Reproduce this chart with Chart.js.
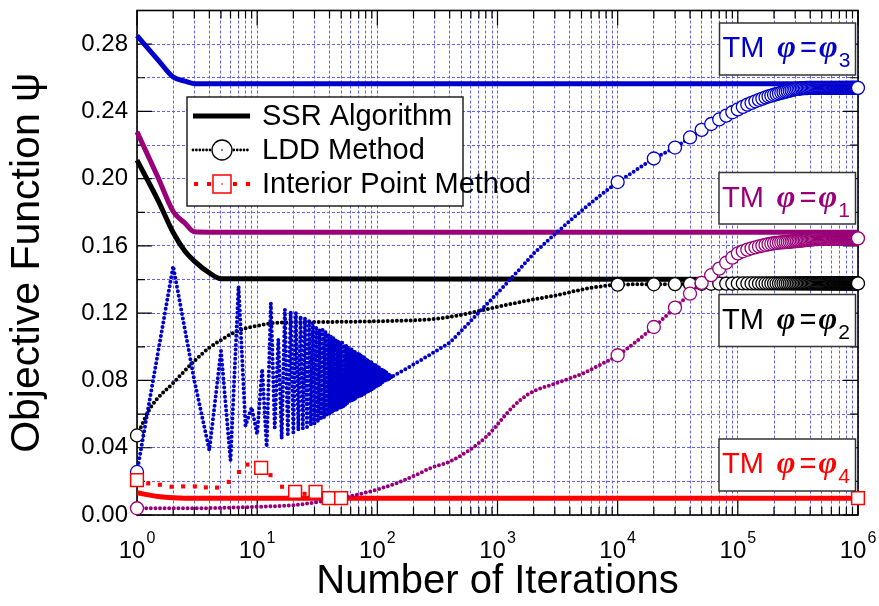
<!DOCTYPE html>
<html>
<head>
<meta charset="utf-8">
<script src="https://cdn.jsdelivr.net/npm/chart.js@4.4.1/dist/chart.umd.min.js"></script>
<style>
html, body { margin: 0; padding: 0; background: #fff; }
#wrap { width: 879px; height: 606px; }
</style>
</head>
<body>
<div id="wrap"><canvas id="myChart"></canvas></div>
<script>
// axis ticks
const decades = [1, 10, 100, 1000, 10000, 100000, 1000000];
const minorSteps = [1, 2, 3, 4, 5, 6, 7, 8, 9];
const yTicks = [0, 0.02, 0.04, 0.06, 0.08, 0.10, 0.12, 0.14, 0.16, 0.18, 0.20, 0.22, 0.24, 0.26, 0.28, 0.30];
const yLabels = [0, 0.04, 0.08, 0.12, 0.16, 0.20, 0.24, 0.28];

// SSR algorithm (solid lines)
const ssrIters = [1, 1.5, 2, 2.5, 3, 4, 5, 1000000];
const ssrPhi3 = [0.2850, 0.2705, 0.2604, 0.2580, 0.2565, 0.2564, 0.2564, 0.2564];
const ssrPhi1 = [0.2278, 0.2005, 0.1805, 0.1736, 0.1684, 0.1682, 0.1682, 0.1682];
const ssrPhi2 = [0.2110, 0.1870, 0.1680, 0.1570, 0.1510, 0.1440, 0.1405, 0.1400];
const ssrPhi4 = [0.0132, 0.0110, 0.0102, 0.0100, 0.0100, 0.0100, 0.0100, 0.0100];

// LDD method, first part of each run
const lddPhi3Iters = [1, 2, 3, 4, 5, 6, 7, 8, 9, 10, 11, 12, 13, 14, 15, 16, 17, 18, 19, 20,
  21, 22, 23, 24, 25, 26, 27, 28, 29, 30, 31, 32, 33, 34, 35, 36, 37, 38, 39, 40,
  41, 42, 43, 44, 45, 46, 47, 48, 49, 50, 51, 52, 53, 54, 55, 56, 57, 58, 59, 60,
  61, 62, 63, 64, 65, 66, 67, 68, 69, 70, 71, 72, 73, 74, 75, 76, 77, 78, 79, 80,
  81, 82, 83, 84, 85, 86, 87, 88, 89, 90, 91, 92, 93, 94, 95, 96, 97, 98, 99, 100,
  101, 102, 103, 104, 105, 106, 107, 108, 109, 110, 111, 112, 113, 114, 115, 116, 117, 118, 119, 120,
  121, 122, 123, 124, 125, 126, 127, 128, 129, 130, 131, 132,
  150, 200, 300, 400, 500, 700, 1000, 1500, 2000, 3000, 5000, 7000];
const lddPhi3 = [
  0.0256, 0.1480, 0.0800, 0.0385, 0.0976, 0.0325, 0.1360, 0.0530, 0.0640, 0.0480,
  0.0868, 0.0404, 0.1260, 0.0520, 0.1045, 0.0454, 0.1223, 0.0480, 0.1210, 0.0490,
  0.1203, 0.0503, 0.1183, 0.0513, 0.1173, 0.0523, 0.1154, 0.0533, 0.1144, 0.0542,
  0.1124, 0.0550, 0.1105, 0.0565, 0.1101, 0.0575, 0.1090, 0.0585, 0.1079, 0.0595,
  0.1069, 0.0604, 0.1059, 0.0613, 0.1050, 0.0621, 0.1041, 0.0629, 0.1032, 0.0637,
  0.1024, 0.0644, 0.1016, 0.0651, 0.1008, 0.0658, 0.1001, 0.0665, 0.0994, 0.0671,
  0.0987, 0.0677, 0.0980, 0.0683, 0.0974, 0.0689, 0.0967, 0.0694, 0.0961, 0.0700,
  0.0955, 0.0705, 0.0950, 0.0710, 0.0944, 0.0715, 0.0939, 0.0720, 0.0933, 0.0725,
  0.0928, 0.0730, 0.0923, 0.0734, 0.0918, 0.0738, 0.0913, 0.0743, 0.0909, 0.0747,
  0.0904, 0.0751, 0.0900, 0.0755, 0.0895, 0.0759, 0.0891, 0.0763, 0.0887, 0.0767,
  0.0883, 0.0770, 0.0879, 0.0774, 0.0875, 0.0778, 0.0871, 0.0781, 0.0867, 0.0785,
  0.0863, 0.0788, 0.0859, 0.0791, 0.0856, 0.0795, 0.0852, 0.0798, 0.0849, 0.0801,
  0.0845, 0.0804, 0.0842, 0.0807, 0.0839, 0.0810, 0.0835, 0.0813, 0.0832, 0.0816,
  0.0829, 0.0822,
  0.0844, 0.0895, 0.0970, 0.1025, 0.1095, 0.1205, 0.1320, 0.1455, 0.1555, 0.1670, 0.1810, 0.1895];

const lddPhi1Iters = [1, 2, 4, 7, 11, 21, 40, 75, 143, 223, 270, 420, 800, 1330, 1820, 3240, 5370, 7000];
const lddPhi1 = [0.0040, 0.0040, 0.0041, 0.0045, 0.0050, 0.0060, 0.0089, 0.0128, 0.0188, 0.0247,
  0.0276, 0.0325, 0.0463, 0.0640, 0.0720, 0.0789, 0.0848, 0.0890];

const lddPhi2Iters = [1, 1.3, 2, 3, 4, 5, 6, 7, 8, 10, 13, 20, 40, 100, 200, 300, 500, 700, 1000, 2000, 3000, 5000, 7000];
const lddPhi2 = [0.0473, 0.0640, 0.0785, 0.0915, 0.0995, 0.1040, 0.1075, 0.1095, 0.1110, 0.1125,
  0.1140, 0.1146, 0.1148, 0.1152, 0.1158, 0.1166, 0.1190, 0.1213, 0.1238, 0.1282, 0.1305, 0.1340, 0.1358];

// LDD method, circle markers at k x 10^4 iterations
const markerK = [1, 2, 3, 4, 5, 6, 7, 8, 9, 10, 11, 12, 13, 14, 15, 16, 17, 18, 19, 20,
  21, 22, 23, 24, 25, 26, 27, 28, 29, 30, 31, 32, 33, 34, 35, 36, 37, 38, 39, 40,
  41, 42, 43, 44, 45, 46, 47, 48, 49, 50, 51, 52, 53, 54, 55, 56, 57, 58, 59, 60,
  61, 62, 63, 64, 65, 66, 67, 68, 69, 70, 71, 72, 73, 74, 75, 76, 77, 78, 79, 80,
  81, 82, 83, 84, 85, 86, 87, 88, 89, 90, 91, 92, 93, 94, 95, 96, 97, 98, 99, 100];
const mkPhi3 = [
  0.1980, 0.2120, 0.2185, 0.2245, 0.2290, 0.2325, 0.2352, 0.2375, 0.2395, 0.2412,
  0.2427, 0.2440, 0.2451, 0.2460, 0.2468, 0.2476, 0.2483, 0.2489, 0.2494, 0.2499,
  0.2503, 0.2507, 0.2511, 0.2514, 0.2517, 0.2520, 0.2523, 0.2526, 0.2529, 0.2532,
  0.2534, 0.2535, 0.2536, 0.2537, 0.2538, 0.2538, 0.2539, 0.2539, 0.2540, 0.2540,
  0.2540, 0.2540, 0.2540, 0.2540, 0.2540, 0.2540, 0.2540, 0.2540, 0.2540, 0.2540,
  0.2540, 0.2540, 0.2540, 0.2540, 0.2540, 0.2540, 0.2540, 0.2540, 0.2540, 0.2540,
  0.2540, 0.2540, 0.2540, 0.2540, 0.2540, 0.2540, 0.2540, 0.2540, 0.2540, 0.2540,
  0.2540, 0.2540, 0.2540, 0.2540, 0.2540, 0.2540, 0.2540, 0.2540, 0.2540, 0.2540,
  0.2540, 0.2540, 0.2540, 0.2540, 0.2540, 0.2540, 0.2540, 0.2540, 0.2540, 0.2540,
  0.2540, 0.2540, 0.2540, 0.2540, 0.2540, 0.2540, 0.2540, 0.2540, 0.2540, 0.2540];
const mkPhi1 = [
  0.0950, 0.1118, 0.1233, 0.1316, 0.1380, 0.1426, 0.1465, 0.1500, 0.1530, 0.1556,
  0.1568, 0.1578, 0.1586, 0.1592, 0.1597, 0.1602, 0.1606, 0.1610, 0.1613, 0.1616,
  0.1618, 0.1620, 0.1621, 0.1622, 0.1623, 0.1624, 0.1625, 0.1626, 0.1627, 0.1628,
  0.1629, 0.1630, 0.1631, 0.1632, 0.1633, 0.1634, 0.1635, 0.1636, 0.1637, 0.1638,
  0.1639, 0.1639, 0.1640, 0.1640, 0.1641, 0.1641, 0.1642, 0.1642, 0.1643, 0.1643,
  0.1644, 0.1644, 0.1644, 0.1644, 0.1644, 0.1644, 0.1644, 0.1644, 0.1644, 0.1644,
  0.1644, 0.1644, 0.1644, 0.1644, 0.1644, 0.1644, 0.1644, 0.1644, 0.1644, 0.1644,
  0.1644, 0.1644, 0.1644, 0.1644, 0.1644, 0.1644, 0.1644, 0.1644, 0.1644, 0.1644,
  0.1645, 0.1645, 0.1645, 0.1645, 0.1645, 0.1645, 0.1645, 0.1645, 0.1645, 0.1645,
  0.1645, 0.1645, 0.1645, 0.1645, 0.1645, 0.1645, 0.1645, 0.1645, 0.1645, 0.1645];
const mkPhi2 = [
  0.1370, 0.1372, 0.1373, 0.1374, 0.1375, 0.1375, 0.1376, 0.1376, 0.1376, 0.1377,
  0.1377, 0.1377, 0.1377, 0.1377, 0.1377, 0.1377, 0.1377, 0.1377, 0.1377, 0.1377,
  0.1377, 0.1377, 0.1377, 0.1377, 0.1377, 0.1377, 0.1377, 0.1377, 0.1377, 0.1377,
  0.1377, 0.1377, 0.1377, 0.1377, 0.1377, 0.1377, 0.1377, 0.1377, 0.1377, 0.1377,
  0.1377, 0.1377, 0.1377, 0.1377, 0.1377, 0.1377, 0.1377, 0.1377, 0.1377, 0.1377,
  0.1377, 0.1377, 0.1377, 0.1377, 0.1377, 0.1377, 0.1377, 0.1377, 0.1377, 0.1377,
  0.1377, 0.1377, 0.1377, 0.1377, 0.1377, 0.1377, 0.1377, 0.1377, 0.1377, 0.1377,
  0.1377, 0.1377, 0.1377, 0.1377, 0.1377, 0.1377, 0.1377, 0.1377, 0.1377, 0.1377,
  0.1377, 0.1377, 0.1377, 0.1377, 0.1377, 0.1377, 0.1377, 0.1377, 0.1377, 0.1377,
  0.1377, 0.1377, 0.1377, 0.1377, 0.1377, 0.1377, 0.1377, 0.1377, 0.1377, 0.1377];

// interior point method (phi4 case)
const ipmIters = [1, 1.24, 1.55, 1.94, 2.42, 3.03, 3.74, 4.64, 5.8, 7.06, 8.3, 10.8, 12.9, 16.1, 20.7, 24.8, 30.6, 39.4, 50, 1000000];
const ipmPhi4 = [0.0207, 0.0188, 0.0180, 0.0168, 0.0170, 0.0170, 0.0164, 0.0163, 0.0197, 0.0256,
  0.0300, 0.0280, 0.0237, 0.0168, 0.0138, 0.0126, 0.0138, 0.0100, 0.0100, 0.0100];
const ipmSquareIters = [1, 10.8, 20.7, 30.6, 39.4, 50, 1000000];

const BLUE = '#0000cc', PURPLE = '#990077', BLACK = '#000000', RED = '#ff0000';
const GRID = '#6060ff';
const FONT = '"Liberation Sans", Arial, sans-serif';

const xGrid = decades.slice(0, -1).flatMap(d => minorSteps.map(m => m * d)).concat([1000000]);
const isLabelTick = v => Math.round(v * 100) % 4 === 0;

function pts(xs, ys) { return xs.map((x, i) => ({ x: x, y: ys[i] })); }
function lddData(xs, ys, mk) {
  return pts(xs, ys).concat(markerK.map((k, i) => ({ x: k * 10000, y: mk[i] })));
}
const circleAt = c => (c.raw && (c.raw.x === 1 || c.raw.x >= 10000)) ? 6.5 : 0;

function ssrSet(ys, color, order) {
  return { data: pts(ssrIters, ys), borderColor: color, borderWidth: 5, pointRadius: 0,
    cubicInterpolationMode: 'monotone', order: order, clip: false };
}
function lddSet(xs, ys, mk, color, order, smooth) {
  return { data: lddData(xs, ys, mk), borderColor: color, borderWidth: 4, borderDash: [0, 4.6],
    borderCapStyle: 'round', cubicInterpolationMode: smooth ? 'monotone' : 'default', tension: 0,
    pointRadius: circleAt, pointStyle: 'circle', pointBackgroundColor: '#fff',
    pointBorderColor: color, pointBorderWidth: 1.3, order: order, clip: false };
}

function drawTM(ctx, box, color, sub) {
  ctx.fillStyle = '#fff';
  ctx.fillRect(box.x, box.y, box.w, box.h);
  ctx.strokeStyle = '#333';
  ctx.lineWidth = 1.5;
  ctx.strokeRect(box.x, box.y, box.w, box.h);
  ctx.fillStyle = color;
  ctx.textAlign = 'left';
  ctx.textBaseline = 'alphabetic';
  const base = box.y + 34;
  let cx = box.x + 3;
  ctx.font = '29px ' + FONT;
  ctx.fillText('TM', cx, base);
  cx += ctx.measureText('TM').width + 13;
  ctx.font = 'bold italic 32px "Liberation Serif", serif';
  ctx.fillText('φ', cx, base);
  cx += ctx.measureText('φ').width + 4;
  ctx.font = '29px ' + FONT;
  ctx.fillText('=', cx, base);
  cx += ctx.measureText('=').width + 2;
  ctx.font = 'bold italic 32px "Liberation Serif", serif';
  ctx.fillText('φ', cx, base);
  cx += ctx.measureText('φ').width + 1;
  ctx.font = '21px ' + FONT;
  ctx.fillText(sub, cx, base + 10);
}

const framePlugin = {
  id: 'frame',
  beforeDatasetsDraw(chart) {
    const { ctx, chartArea: a } = chart;
    const xs = chart.scales.x, ys = chart.scales.y;
    ctx.save();
    ctx.strokeStyle = '#000';
    ctx.lineWidth = 1.2;
    ctx.beginPath();
    xs.ticks.forEach(t => {
      const px = xs.getPixelForValue(t.value);
      const len = decades.includes(t.value) ? 15 : 8;
      ctx.moveTo(px, a.bottom); ctx.lineTo(px, a.bottom - len);
      ctx.moveTo(px, a.top); ctx.lineTo(px, a.top + len);
    });
    ys.ticks.forEach(t => {
      const py = ys.getPixelForValue(t.value);
      const len = isLabelTick(t.value) ? 15 : 8;
      ctx.moveTo(a.left, py); ctx.lineTo(a.left + len, py);
      ctx.moveTo(a.right, py); ctx.lineTo(a.right - len, py);
    });
    ctx.stroke();
    ctx.lineWidth = 1.6;
    ctx.strokeRect(a.left, a.top, a.right - a.left, a.bottom - a.top);

    // decade labels 10^n
    ctx.fillStyle = '#000';
    ctx.textAlign = 'left';
    ctx.textBaseline = 'alphabetic';
    decades.forEach((d, e) => {
      const px = xs.getPixelForValue(d);
      ctx.font = '24px ' + FONT;
      const w1 = ctx.measureText('10').width;
      ctx.font = '16px ' + FONT;
      const w2 = ctx.measureText(String(e)).width;
      const x0 = px - (w1 + 1 + w2) / 2;
      ctx.font = '24px ' + FONT;
      ctx.fillText('10', x0, a.bottom + 43);
      ctx.font = '16px ' + FONT;
      ctx.fillText(String(e), x0 + w1 + 1, a.bottom + 28);
    });
    ctx.restore();
  },
  afterDatasetsDraw(chart) {
    const ctx = chart.ctx;
    ctx.save();
    // legend
    const L = { x: 187, y: 97, w: 276, h: 109 };
    ctx.fillStyle = '#fff';
    ctx.fillRect(L.x, L.y, L.w, L.h);
    ctx.strokeStyle = '#222';
    ctx.lineWidth = 1.5;
    ctx.strokeRect(L.x, L.y, L.w, L.h);
    const r1 = L.y + 19, r2 = L.y + 53, r3 = L.y + 87;
    const sx0 = L.x + 6, sx1 = L.x + 63, sxm = L.x + 35;

    ctx.strokeStyle = BLACK; ctx.lineWidth = 5; ctx.setLineDash([]);
    ctx.beginPath(); ctx.moveTo(sx0, r1); ctx.lineTo(sx1, r1); ctx.stroke();

    ctx.lineWidth = 2.8; ctx.lineCap = 'round'; ctx.setLineDash([0, 3.4]);
    ctx.beginPath(); ctx.moveTo(sx0, r2); ctx.lineTo(sx1, r2); ctx.stroke();
    ctx.setLineDash([]); ctx.lineCap = 'butt';
    ctx.fillStyle = '#fff'; ctx.lineWidth = 1.3;
    ctx.beginPath(); ctx.arc(sxm, r2, 10, 0, Math.PI * 2); ctx.fill(); ctx.stroke();
    ctx.fillStyle = BLACK; ctx.fillRect(sxm - 0.7, r2 - 0.7, 1.4, 1.4);

    ctx.fillStyle = RED;
    [sx0 + 3, sx0 + 16, sx0 + 42, sx0 + 55].forEach(px => ctx.fillRect(px - 2, r3 - 2, 4, 4));
    ctx.fillStyle = '#fff'; ctx.strokeStyle = RED; ctx.lineWidth = 1.5;
    ctx.fillRect(sxm - 9, r3 - 9, 18, 18); ctx.strokeRect(sxm - 9, r3 - 9, 18, 18);
    ctx.fillStyle = RED; ctx.fillRect(sxm - 0.7, r3 - 0.7, 1.4, 1.4);

    ctx.fillStyle = '#000';
    ctx.font = '29px ' + FONT;
    ctx.textAlign = 'left';
    ctx.textBaseline = 'middle';
    ctx.fillText('SSR Algorithm', L.x + 75, r1 + 1);
    ctx.fillText('LDD Method', L.x + 75, r2 + 1);
    ctx.fillText('Interior Point Method', L.x + 75, r3 + 1);

    // case labels
    drawTM(ctx, { x: 719.5, y: 23, w: 136, h: 52 }, BLUE, '3');
    drawTM(ctx, { x: 719, y: 172.5, w: 136.5, h: 51.5 }, PURPLE, '1');
    drawTM(ctx, { x: 719, y: 294.5, w: 136.5, h: 52 }, BLACK, '2');
    drawTM(ctx, { x: 719, y: 439, w: 136.5, h: 52 }, RED, '4');
    ctx.restore();
  }
};

const ctx = document.getElementById('myChart').getContext('2d');
new Chart(ctx, {
  type: 'line',
  data: {
    datasets: [
      {
        data: pts(ipmIters, ipmPhi4), showLine: false, pointStyle: 'rect',
        pointRadius: c => ipmSquareIters.includes(c.raw.x) ? 9 : 2.9,
        pointBackgroundColor: c => ipmSquareIters.includes(c.raw.x) ? '#fff' : RED,
        pointBorderColor: RED,
        pointBorderWidth: c => ipmSquareIters.includes(c.raw.x) ? 1.5 : 0,
        order: 0, clip: false
      },
      lddSet(lddPhi3Iters, lddPhi3, mkPhi3, BLUE, 1, false),
      lddSet(lddPhi1Iters, lddPhi1, mkPhi1, PURPLE, 2, true),
      lddSet(lddPhi2Iters, lddPhi2, mkPhi2, BLACK, 3, true),
      ssrSet(ssrPhi4, RED, 4),
      ssrSet(ssrPhi2, BLACK, 5),
      ssrSet(ssrPhi1, PURPLE, 6),
      ssrSet(ssrPhi3, BLUE, 7)
    ]
  },
  options: {
    responsive: true,
    maintainAspectRatio: false,
    animation: false,
    events: [],
    layout: { padding: { top: 8, right: 21, left: 0, bottom: 0 } },
    plugins: { legend: { display: false }, tooltip: { enabled: false } },
    scales: {
      x: {
        type: 'logarithmic', min: 1, max: 1000000,
        afterBuildTicks: s => { s.ticks = xGrid.map(v => ({ value: v })); },
        afterFit: s => { s.height = 91; s.paddingLeft = 0; s.paddingRight = 0; },
        ticks: { display: false },
        grid: { color: GRID, lineWidth: 1, drawTicks: false },
        border: { display: false, dash: [3, 2] },
        title: { display: true, text: 'Number of Iterations', color: '#000',
          font: { family: FONT, size: 40, lineHeight: 1 }, padding: { top: 0, bottom: 4 } }
      },
      y: {
        min: 0, max: 0.30,
        afterBuildTicks: s => { s.ticks = yTicks.map(v => ({ value: v })); },
        afterFit: s => { s.width = 137; s.paddingTop = 0; s.paddingBottom = 0; },
        ticks: { padding: 9, color: '#000', font: { family: FONT, size: 24 },
          callback: v => isLabelTick(v) ? v.toFixed(2) : '' },
        grid: { color: GRID, lineWidth: 1, drawTicks: false },
        border: { display: false, dash: [3, 2] },
        title: { display: true, text: 'Objective Function ψ', color: '#000',
          font: { family: FONT, size: 41, lineHeight: 1 }, padding: { top: 7, bottom: 0 } }
      }
    }
  },
  plugins: [framePlugin]
});
</script>
</body>
</html>
